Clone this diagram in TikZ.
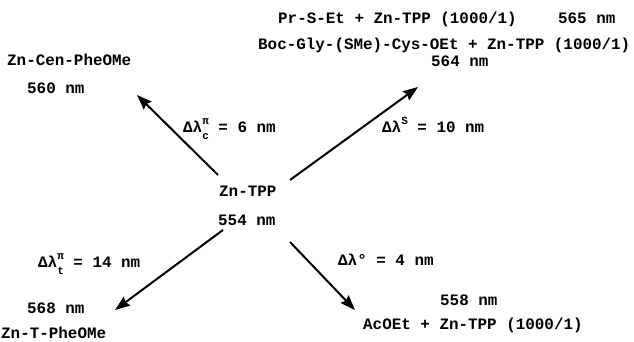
\documentclass[tikz,border=0pt]{standalone}
\usepackage{fontspec}
\setmonofont{Liberation Mono}
\usetikzlibrary{arrows.meta, positioning}

\newcommand{\idx}{\fontsize{11}{12}\selectfont}
\newcommand{\dlam}[2]{Δλ\rlap{\raisebox{0.5em}{\idx #1}}\raisebox{-0.4em}{\idx #2}}

\begin{document}
\begin{tikzpicture}[
  x=1pt, y=-1pt,
  >={Stealth[length=15pt, width=11pt, inset=2pt]},
  lbl/.style={font={\ttfamily\bfseries\fontsize{15.9}{19}\selectfont}, inner sep=0pt, text height=11.5pt, text depth=0pt, anchor=west},
  arrow/.style={->, line width=2pt}
]
\useasboundingbox (0,0) rectangle (634,342);

% centre
\node[lbl] (tpp) at (219,191) {Zn-TPP};
\node[lbl, below=29pt of tpp.west, anchor=west, xshift=-1pt] (tppnm) {554 nm};

% up left
\node[lbl] (cen) at (7,60) {Zn-Cen-PheOMe};
\node[lbl, below=28pt of cen.west, anchor=west, xshift=20pt] (cennm) {560 nm};

% up right
\node[lbl] (pr) at (278,18) {Pr-S-Et + Zn-TPP (1000/1)};
\node[lbl, right=41pt of pr] (prnm) {565 nm};
\node[lbl] (boc) at (258,44) {Boc-Gly-(SMe)-Cys-OEt + Zn-TPP (1000/1)};
\node[lbl] (bocnm) at (431,61) {564 nm};

% down left
\node[lbl] (tnm) at (27,308) {568 nm};
\node[lbl, below=25pt of tnm.west, anchor=west, xshift=-26pt] (tname) {Zn-T-PheOMe};

% down right
\node[lbl] (acnm) at (440,300) {558 nm};
\node[lbl] (ac) at (363,324) {AcOEt + Zn-TPP (1000/1)};

% shifts
\node[lbl] (dc) at (183,127) {\dlam{π}{c} = 6 nm};
\node[lbl] (ds) at (382,127) {Δλ\raisebox{0.5em}{\idx S} = 10 nm};
\node[lbl] (dt) at (38,262) {\dlam{π}{t} = 14 nm};
\node[lbl] (do) at (338,260) {Δλ° = 4 nm};

% arrows
\coordinate (nw) at (218,175);
\coordinate (ne) at (290,180);
\coordinate (sw) at (223,230);
\coordinate (se) at (290,242);
\coordinate (cen-tip) at (137,95);
\coordinate (boc-tip) at (418,87);
\coordinate (tnm-tip) at (115,310);
\coordinate (ac-tip) at (355,310);

\draw[arrow] (nw) -- (cen-tip);
\draw[arrow] (ne) -- (boc-tip);
\draw[arrow] (sw) -- (tnm-tip);
\draw[arrow] (se) -- (ac-tip);

\end{tikzpicture}
\end{document}
